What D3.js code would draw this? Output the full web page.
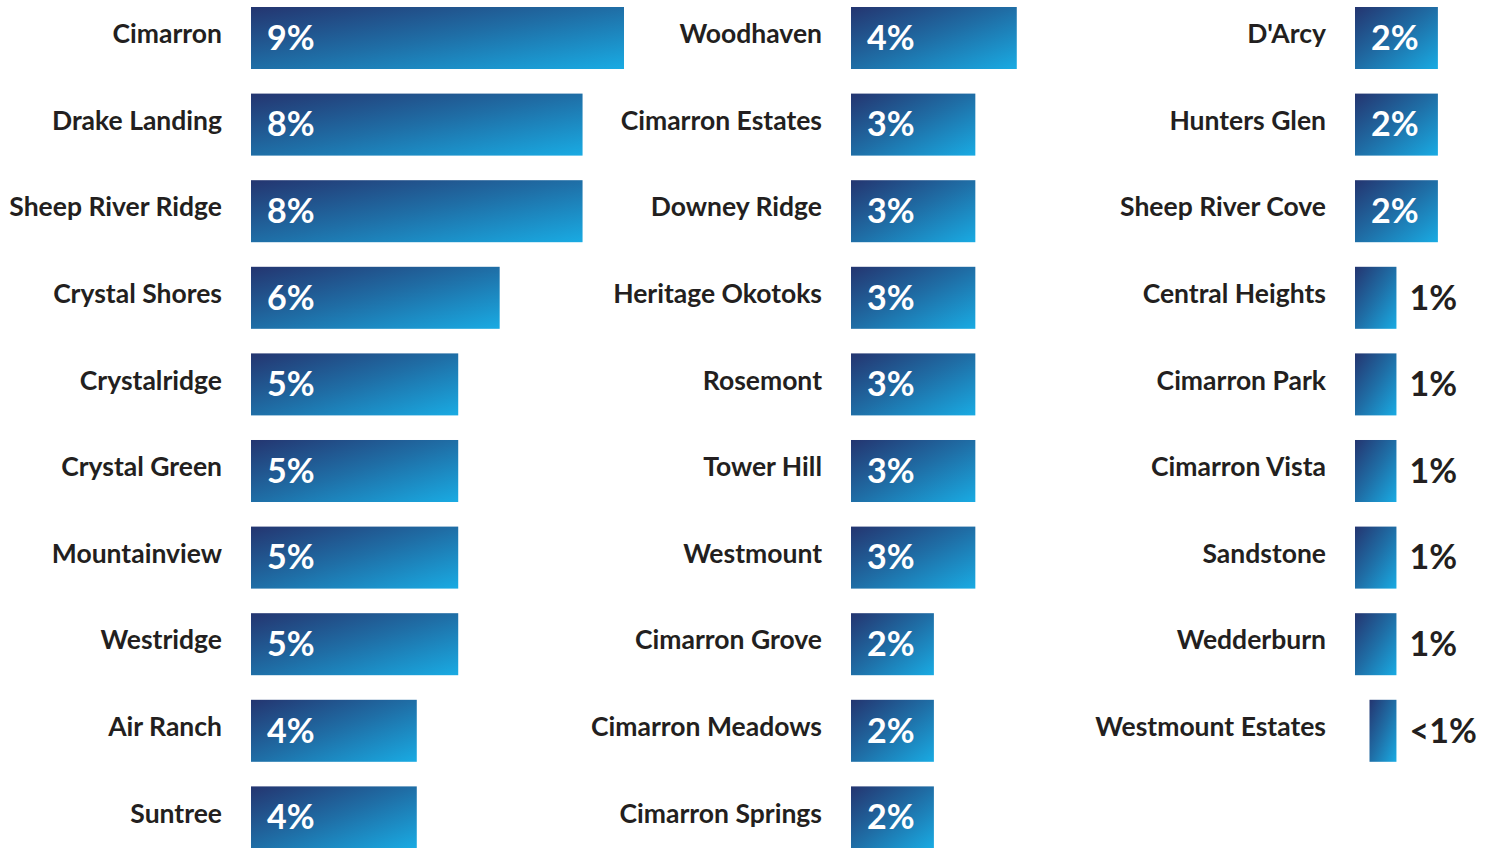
<html>
<head>
  <meta charset="utf-8">
  <title></title>
  <script src="https://d3js.org/d3.v7.min.js"></script>
  <style>
    body {
      margin: 0;
      padding: 0;
      background: #fff;
      font-family: Lato, "Open Sans", sans-serif;
    }
    .name {
      fill: #231f20;
      font-size: 26.5px;
      font-weight: bold;
      text-anchor: end;
    }
    .val {
      font-size: 34px;
      font-weight: bold;
    }
  </style>
</head>
<body>
  <div id="chart"></div>
  <script>

    var names1 = ["Cimarron", "Drake Landing", "Sheep River Ridge", "Crystal Shores", "Crystalridge",
      "Crystal Green", "Mountainview", "Westridge", "Air Ranch", "Suntree"];
    var values1 = [9, 8, 8, 6, 5, 5, 5, 5, 4, 4];
    var labels1 = ["9%", "8%", "8%", "6%", "5%", "5%", "5%", "5%", "4%", "4%"];

    var names2 = ["Woodhaven", "Cimarron Estates", "Downey Ridge", "Heritage Okotoks", "Rosemont",
      "Tower Hill", "Westmount", "Cimarron Grove", "Cimarron Meadows", "Cimarron Springs"];
    var values2 = [4, 3, 3, 3, 3, 3, 3, 2, 2, 2];
    var labels2 = ["4%", "3%", "3%", "3%", "3%", "3%", "3%", "2%", "2%", "2%"];

    var names3 = ["D'Arcy", "Hunters Glen", "Sheep River Cove", "Central Heights", "Cimarron Park",
      "Cimarron Vista", "Sandstone", "Wedderburn", "Westmount Estates"];
    var values3 = [2, 2, 2, 1, 1, 1, 1, 1, 0.65];
    var labels3 = ["2%", "2%", "2%", "1%", "1%", "1%", "1%", "1%", "<1%"];

    var width = 1496, height = 848;

    var svg = d3.select("#chart").append("svg")
        .attr("width", width)
        .attr("height", height);

    var grad = svg.append("defs").append("linearGradient")
        .attr("id", "barGrad")
        .attr("x1", 0).attr("y1", 0)
        .attr("x2", 1).attr("y2", 1);
    grad.append("stop").attr("offset", "0%").attr("stop-color", "#243570");
    grad.append("stop").attr("offset", "50%").attr("stop-color", "#1f6ea6");
    grad.append("stop").attr("offset", "100%").attr("stop-color", "#19abe3");

    // px per percent ~41.5
    var x = d3.scaleLinear().domain([0, 9]).range([0, 373]);

    // rows every ~86.6px, bars 62px tall
    var y = d3.scaleBand()
        .domain(d3.range(10))
        .range([7, 848.4])
        .paddingInner(0.284)
        .paddingOuter(0)
        .align(0);

    var columns = [
      { left: 251, names: names1, values: values1, labels: labels1 },
      { left: 851, names: names2, values: values2, labels: labels2 },
      { left: 1355, names: names3, values: values3, labels: labels3 }
    ];

    columns.forEach(function(col) {
      var data = col.names.map(function(n, i) {
        return { name: n, value: col.values[i], label: col.labels[i], i: i };
      });

      var g = svg.append("g")
          .attr("transform", "translate(" + col.left + ",0)");

      var row = g.selectAll(".row")
          .data(data)
        .enter().append("g")
          .attr("class", "row")
          .attr("transform", function(d) { return "translate(0," + y(d.i) + ")"; });

      // values under 1% sit flush against the 1% bar end
      function barX(d) { return d.value < 1 ? x(1) - x(d.value) : 0; }
      function inside(d) { return d.value >= 2; }

      row.append("rect")
          .attr("x", barX)
          .attr("y", 0)
          .attr("width", function(d) { return x(d.value); })
          .attr("height", y.bandwidth())
          .attr("fill", "url(#barGrad)");

      row.append("text")
          .attr("class", "name")
          .attr("x", -29)
          .attr("y", y.bandwidth() / 2 - 4)
          .attr("dy", "0.35em")
          .text(function(d) { return d.name; });

      row.append("text")
          .attr("class", "val")
          .attr("x", function(d) { return inside(d) ? 16 : Math.max(x(d.value), x(1)) + 13; })
          .attr("y", y.bandwidth() / 2)
          .attr("dy", "0.35em")
          .attr("fill", function(d) { return inside(d) ? "#fff" : "#231f20"; })
          .text(function(d) { return d.label; });
    });

  </script>
</body>
</html>
